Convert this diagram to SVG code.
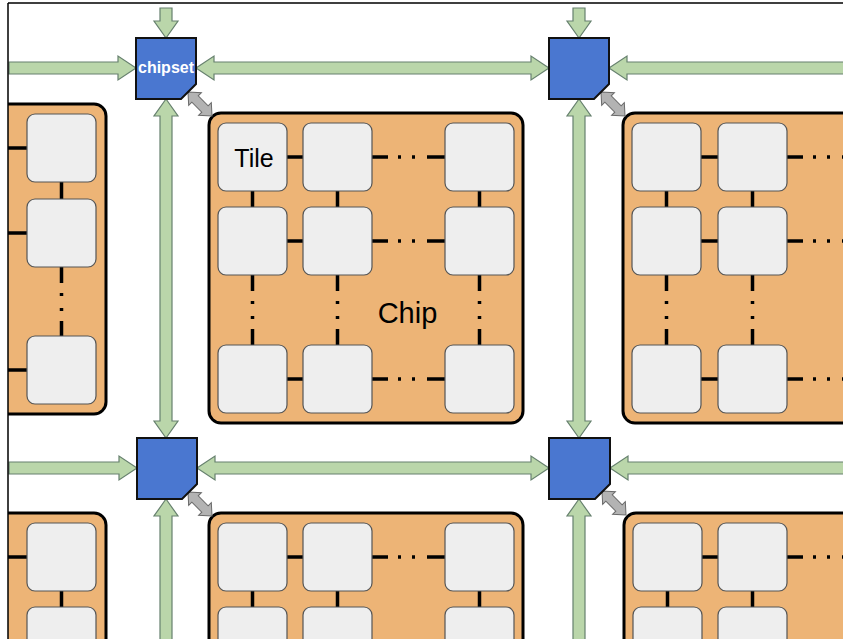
<svg xmlns="http://www.w3.org/2000/svg" xmlns:xlink="http://www.w3.org/1999/xlink" width="843" height="639" viewBox="0 0 843 639">
<style>
.chip{fill:#edb476;stroke:#000;stroke-width:3}
.tile{fill:#eeeeee;stroke:#555;stroke-width:1.2}
.link{stroke:#000;stroke-width:3.5;fill:none}
.dh{stroke-dasharray:16 10 3 11 3 12 18}
.dv{stroke-dasharray:16 10 3 12 3 10 16}
.green{fill:#bad6aa;stroke:#66806e;stroke-width:1.2}
.gray{fill:#b3b3b3;stroke:#6a6a6a;stroke-width:1}
.cs{fill:#4a77d0;stroke:#111;stroke-width:2}
.lbl{font-family:"Liberation Sans",Arial,sans-serif;fill:#000}
</style>
<defs>
<rect id="tile" class="tile" width="69" height="68" rx="8"/>
<path id="garrow" class="gray" d="M-17,0 L-7,-9 L-7,-4.5 L7,-4.5 L7,-9 L17,0 L7,9 L7,4.5 L-7,4.5 L-7,9 Z"/>
</defs>
<rect x="0" y="0" width="843" height="639" fill="#fff"/>

<g id="chip-top-left">
<rect class="chip" x="-20" y="104" width="126" height="310" rx="12"/>
<path class="link" d="M8,148H27M8,233H27M8,370H27M61.5,182V199"/>
<path class="link dv" d="M61.5,267V336"/>
<use href="#tile" x="27" y="114"/><use href="#tile" x="27" y="199"/><use href="#tile" x="27" y="336"/>
</g>

<g id="chip-top-middle">
<rect class="chip" x="209" y="113" width="314" height="310" rx="12"/>
<path class="link" d="M287,157H303M287,241H303M287,379H303M252.5,191V207M337.5,191V207M479.5,191V207"/>
<path class="link dh" d="M372,157H445M372,241H445M372,379H445"/>
<path class="link dv" d="M252.5,275V345M337.5,275V345M479.5,275V345"/>
<use href="#tile" x="218" y="123"/><use href="#tile" x="303" y="123"/><use href="#tile" x="445" y="123"/>
<use href="#tile" x="218" y="207"/><use href="#tile" x="303" y="207"/><use href="#tile" x="445" y="207"/>
<use href="#tile" x="218" y="345"/><use href="#tile" x="303" y="345"/><use href="#tile" x="445" y="345"/>
<text class="lbl" x="254" y="167" font-size="25" text-anchor="middle">Tile</text>
<text class="lbl" x="407.5" y="323" font-size="29" text-anchor="middle">Chip</text>
</g>

<g id="chip-top-right">
<rect class="chip" x="623" y="113" width="260" height="310" rx="12"/>
<path class="link" d="M701,157H718M701,241H718M701,379H718M666.5,191V207M752.5,191V207"/>
<path class="link dh" d="M787,157H860M787,241H860M787,379H860"/>
<path class="link dv" d="M666.5,275V345M752.5,275V345"/>
<use href="#tile" x="632" y="123"/><use href="#tile" x="718" y="123"/>
<use href="#tile" x="632" y="207"/><use href="#tile" x="718" y="207"/>
<use href="#tile" x="632" y="345"/><use href="#tile" x="718" y="345"/>
</g>

<g id="chip-bottom-left">
<rect class="chip" x="-20" y="513" width="126" height="200" rx="12"/>
<path class="link" d="M8,557H27M61.5,591V607"/>
<use href="#tile" x="27" y="523"/><use href="#tile" x="27" y="607"/>
</g>

<g id="chip-bottom-middle">
<rect class="chip" x="209" y="513" width="314" height="200" rx="12"/>
<path class="link" d="M287,557H303M252.5,591V607M337.5,591V607M479.5,591V607"/>
<path class="link dh" d="M372,557H445"/>
<use href="#tile" x="218" y="523"/><use href="#tile" x="303" y="523"/><use href="#tile" x="445" y="523"/>
<use href="#tile" x="218" y="607"/><use href="#tile" x="303" y="607"/><use href="#tile" x="445" y="607"/>
</g>

<g id="chip-bottom-right">
<rect class="chip" x="624" y="513" width="260" height="200" rx="12"/>
<path class="link" d="M702,557H718M667.5,591V607M752.5,591V607"/>
<path class="link dh" d="M787,557H860"/>
<use href="#tile" x="633" y="523"/><use href="#tile" x="718" y="523"/>
<use href="#tile" x="633" y="607"/><use href="#tile" x="718" y="607"/>
</g>

<g id="connectors">
<polygon class="green" points="9,62 118,62 118,56 136,68 118,80 118,74 9,74"/>
<polygon class="green" points="196,68 214,56 214,62 531,62 531,56 549,68 531,80 531,74 214,74 214,80"/>
<polygon class="green" points="609,68 627,56 627,62 846,62 846,74 627,74 627,80"/>
<polygon class="green" points="9,462 119,462 119,456 137,468 119,480 119,474 9,474"/>
<polygon class="green" points="197,468 215,456 215,462 531,462 531,456 549,468 531,480 531,474 215,474 215,480"/>
<polygon class="green" points="610,468 628,456 628,462 846,462 846,474 628,474 628,480"/>
<polygon class="green" points="160,8 172,8 172,21 178,21 166,38 154,21 160,21"/>
<polygon class="green" points="166,99 178,116 172,116 172,421 178,421 166,438 154,421 160,421 160,116 154,116"/>
<polygon class="green" points="166,499 178,516 172,516 172,642 160,642 160,516 154,516"/>
<polygon class="green" points="573,8 585,8 585,21 591,21 579,38 567,21 573,21"/>
<polygon class="green" points="579,99 591,116 585,116 585,421 591,421 579,438 567,421 573,421 573,116 567,116"/>
<polygon class="green" points="579,499 591,516 585,516 585,642 573,642 573,516 567,516"/>
<use href="#garrow" transform="translate(200,104) rotate(45)"/>
<use href="#garrow" transform="translate(613,104) rotate(45)"/>
<use href="#garrow" transform="translate(200,504) rotate(45)"/>
<use href="#garrow" transform="translate(614,503) rotate(45)"/>
</g>

<g id="chipset-top-left">
<polygon class="cs" points="136,38 196,38 196,84 181,99 136,99"/>
<text x="166" y="73" font-family="'Liberation Sans',Arial,sans-serif" font-weight="bold" font-size="16" fill="#fff" text-anchor="middle">chipset</text>
</g>
<g id="chipset-top-right">
<polygon class="cs" points="549,38 609,38 609,84 594,99 549,99"/>
</g>
<g id="chipset-bottom-left">
<polygon class="cs" points="137,438 197,438 197,484 182,499 137,499"/>
</g>
<g id="chipset-bottom-right">
<polygon class="cs" points="549,438 610,438 610,484 595,499 549,499"/>
</g>

<g id="frame">
<rect x="0" y="0" width="8" height="639" fill="#fff"/>
<rect x="0" y="0" width="843" height="3" fill="#fff"/>
<path d="M8,3H843M8,3V639" stroke="#000" stroke-width="1.5" fill="none"/>
</g>
</svg>
